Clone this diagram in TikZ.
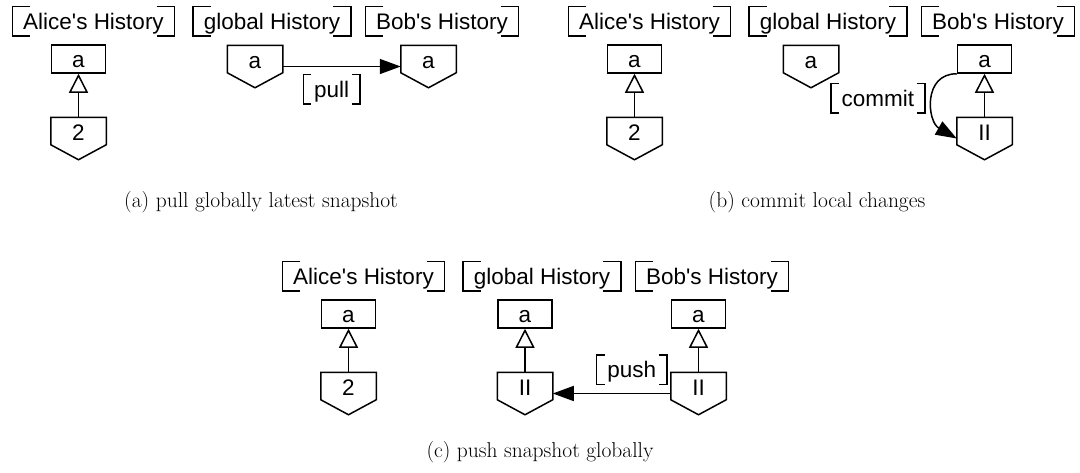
\documentclass[tikz,border=0pt]{standalone}
\usepackage{fontspec}
\newfontfamily\lsans{Liberation Sans}
\usetikzlibrary{arrows.meta,calc}
\tikzset{
  sansfont/.style={font=\lsans\fontsize{22.5}{27}\selectfont},
  lbl/.style={sansfont, inner xsep=10pt, inner ysep=0pt, text height=22pt, text depth=6pt},
  boxnode/.style={sansfont, draw, minimum width=54pt, inner sep=0pt, text height=22pt, text depth=6pt},
  pentnode/.style={sansfont, minimum width=54pt, inner sep=0pt, text height=22pt, text depth=19pt},
  gen/.style={-{Triangle[open,length=19pt,width=19pt]}},
  flow/.style={-{Triangle[length=21pt,width=15pt]}},
  captext/.style={font=\fontsize{21.5}{25}\selectfont, anchor=base, inner sep=0pt},
}
\newcommand\pentshape[1]{\draw (#1.north west) -- (#1.north east) -- ([yshift=15pt]#1.south east) -- (#1.south) -- ([yshift=15pt]#1.south west) -- cycle;}
\newcommand\brackets[2]{%
  \draw ([xshift=#2]#1.north west) -- (#1.north west) -- (#1.south west) -- ([xshift=#2]#1.south west);
  \draw ([xshift=-#2]#1.north east) -- (#1.north east) -- (#1.south east) -- ([xshift=-#2]#1.south east);}
\begin{document}
\begin{tikzpicture}[x=1pt,y=-1pt,line width=1.5pt]
\useasboundingbox (0,0) rectangle (1080,472);
% ---------- (a) ----------
\node[lbl] (tA1) at (93.5,21) {Alice's History};
\node[lbl] (tG1) at (272,21) {global History};
\node[lbl] (tB1) at (442,21) {Bob's History};
\node[boxnode] (Aa1) at (78.5,59) {a};
\node[pentnode] (A21) at (78.5,138.5) {2};
\node[pentnode] (Ga1) at (255,66.5) {a};
\node[pentnode] (Ba1) at (428.5,66.5) {a};
\draw[gen] (A21) -- (Aa1);
\draw[flow] (Ga1) -- (Ba1) node[lbl, pos=0.414, below=8pt] (pull) {pull};
\node[captext] (capa) at (261,207) {(a) pull globally latest snapshot};
% ---------- (b) ----------
\node[lbl] (tA2) at (649.5,21) {Alice's History};
\node[lbl] (tG2) at (828,21) {global History};
\node[lbl] (tB2) at (998,21) {Bob's History};
\node[boxnode] (Aa2) at (634.5,59) {a};
\node[pentnode] (A22) at (634.5,138.5) {2};
\node[pentnode] (Ga2) at (811,66.5) {a};
\node[boxnode] (Ba2) at (984.5,59) {a};
\node[pentnode] (Bii2) at (984.5,138.5) {II};
\draw[gen] (A22) -- (Aa2);
\draw[gen] (Bii2) -- (Ba2);
\draw[flow] (Ba2.south west) to[out=180,in=150,looseness=1.35] node[lbl, pos=0.48, anchor=east, xshift=-8pt] (commit) {commit} (Bii2.west);
\node[captext] (capb) at (817,207) {(b) commit local changes};
% ---------- (c) ----------
\node[lbl] (tA3) at (363.5,276) {Alice's History};
\node[lbl] (tG3) at (542,276) {global History};
\node[lbl] (tB3) at (712,276) {Bob's History};
\node[boxnode] (Aa3) at (348.5,314) {a};
\node[pentnode] (A23) at (348.5,393.5) {2};
\node[boxnode] (Ga3) at (525,314) {a};
\node[pentnode] (Gii3) at (525,393.5) {II};
\node[boxnode] (Ba3) at (698.5,314) {a};
\node[pentnode] (Bii3) at (698.5,393.5) {II};
\draw[gen] (A23) -- (Aa3);
\draw[gen] (Gii3) -- (Ga3);
\draw[gen] (Bii3) -- (Ba3);
\draw[flow] (Bii3) -- (Gii3) node[lbl, pos=0.33, above=9pt] (push) {push};
\node[captext] (capc) at (540,457) {(c) push snapshot globally};
% ---------- shapes ----------
\foreach \n in {A21,Ga1,Ba1,A22,Ga2,Bii2,A23,Gii3,Bii3} {\pentshape{\n}}
\foreach \n in {tA1,tG1,tB1,tA2,tG2,tB2,tA3,tG3,tB3} {\brackets{\n}{18pt}}
\foreach \n in {pull,commit,push} {\brackets{\n}{8pt}}
\end{tikzpicture}
\end{document}
